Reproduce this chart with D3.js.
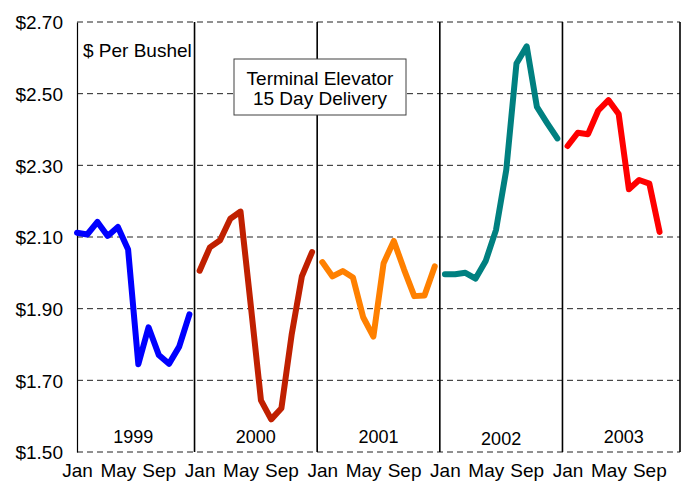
<!DOCTYPE html>
<html>
<head>
<meta charset="utf-8">
<title>Terminal Elevator 15 Day Delivery</title>
<script src="https://cdn.jsdelivr.net/npm/d3@7"></script>
<style>
  body { margin: 0; background: #fff; }
  text { font-family: "Liberation Sans", Arial, sans-serif; fill: #000; }
</style>
</head>
<body>
<div id="chart"></div>
<script>
// data ($ per bushel, monthly)
var years = ["1999", "2000", "2001", "2002", "2003"];
var months = ["Jan","Feb","Mar","Apr","May","Jun","Jul","Aug","Sep","Oct","Nov","Dec"];
var monthLabels = ["Jan", "May", "Sep"];
var price1999 = [2.112, 2.107, 2.142, 2.103, 2.128, 2.065, 1.745, 1.848, 1.771, 1.746, 1.794, 1.884];
var price2000 = [2.006, 2.071, 2.091, 2.151, 2.171, 1.910, 1.644, 1.591, 1.622, 1.827, 1.990, 2.058];
var price2001 = [2.030, 1.990, 2.005, 1.987, 1.876, 1.822, 2.027, 2.089, 2.009, 1.935, 1.937, 2.018];
var price2002 = [1.996, 1.996, 2.000, 1.984, 2.034, 2.120, 2.287, 2.584, 2.632, 2.463, 2.418, 2.375];
var price2003 = [2.354, 2.391, 2.387, 2.453, 2.482, 2.443, 2.233, 2.259, 2.249, 2.114];
var yTicks = [1.5, 1.7, 1.9, 2.1, 2.3, 2.5, 2.7];
var colors = ["#0000ff", "#c02000", "#ff8000", "#008080", "#ff0000"];

var series = [price1999, price2000, price2001, price2002, price2003];

var margin = {top: 22, right: 14, bottom: 33, left: 77},
    width = 694 - margin.left - margin.right,
    height = 485 - margin.top - margin.bottom;

var svg = d3.select("#chart").append("svg")
    .attr("width", width + margin.left + margin.right)
    .attr("height", height + margin.top + margin.bottom);

var g = svg.append("g")
    .attr("transform", "translate(" + margin.left + "," + margin.top + ")");

// one slot per month across all years
var keys = [];
years.forEach(function(y) { months.forEach(function(m) { keys.push(y + "-" + m); }); });

var x = d3.scalePoint().domain(keys).range([0, width]);
var y = d3.scaleLinear().domain([1.5, 2.7]).range([height, 0]);
var step = x.step();

// dashed gridlines (top and bottom included)
g.selectAll(".grid").data(yTicks).enter().append("line")
    .attr("class", "grid")
    .attr("x1", 0).attr("x2", width)
    .attr("y1", d => y(d)).attr("y2", d => y(d))
    .attr("stroke", "#222")
    .attr("stroke-width", 1)
    .attr("stroke-dasharray", "6,4");

// y axis
var yAxis = d3.axisLeft(y).tickValues(yTicks).tickSize(0).tickPadding(14)
    .tickFormat(d3.format("$.2f"));
g.append("g").call(yAxis)
  .call(a => a.select(".domain").attr("stroke", "#000").attr("stroke-width", 1.2))
  .selectAll("text")
    .style("font-size", "19px")
    .attr("dy", "0.36em");

// year separators, midway between Dec and Jan
var seps = years.slice(1).map(function(yr) { return x(yr + "-Jan") - step / 2; });
seps.push(width);
g.selectAll(".sep").data(seps).enter().append("line")
    .attr("class", "sep")
    .attr("x1", d => d).attr("x2", d => d)
    .attr("y1", 0).attr("y2", height)
    .attr("stroke", "#000")
    .attr("stroke-width", 1.6);

// month labels
var ticks = [];
years.forEach(function(yr) { monthLabels.forEach(function(m) { ticks.push(yr + "-" + m); }); });
var xAxis = d3.axisBottom(x).tickValues(ticks).tickSize(0).tickPadding(12)
    .tickFormat(d => d.split("-")[1]);
g.append("g").attr("transform", "translate(0," + height + ")").call(xAxis)
  .call(a => a.select(".domain").remove())
  .selectAll("text")
    .style("font-size", "19px");

// year labels inside bottom of each panel
g.selectAll(".yr").data(years).enter().append("text")
    .attr("class", "yr")
    .attr("x", d => (x(d + "-Jan") + x(d + "-Dec")) / 2)
    .attr("y", (d, i) => height - (i == 3 ? 7 : 9))
    .attr("text-anchor", "middle")
    .style("font-size", "18px")
    .text(d => d);

// price lines
var line = d3.line()
    .x(d => x(d.key))
    .y(d => y(d.v));

series.forEach(function(vals, i) {
  var pts = vals.map(function(v, j) { return {key: years[i] + "-" + months[j], v: v}; });
  g.append("path")
      .datum(pts)
      .attr("d", line)
      .attr("fill", "none")
      .attr("stroke", colors[i])
      .attr("stroke-width", 6)
      .attr("stroke-linejoin", "round")
      .attr("stroke-linecap", "round");
});

// unit label
g.append("text")
    .attr("x", 6).attr("y", 35)
    .style("font-size", "19px")
    .text("$ Per Bushel");

// title box
var box = g.append("g").attr("transform", "translate(157,37)");
box.append("rect")
    .attr("width", 172).attr("height", 56)
    .attr("fill", "#fff")
    .attr("stroke", "#404040")
    .attr("stroke-width", 1);
box.append("text")
    .attr("x", 86).attr("y", 26)
    .attr("text-anchor", "middle")
    .style("font-size", "19px")
    .text("Terminal Elevator");
box.append("text")
    .attr("x", 86).attr("y", 46)
    .attr("text-anchor", "middle")
    .style("font-size", "19px")
    .text("15 Day Delivery");
</script>
</body>
</html>
